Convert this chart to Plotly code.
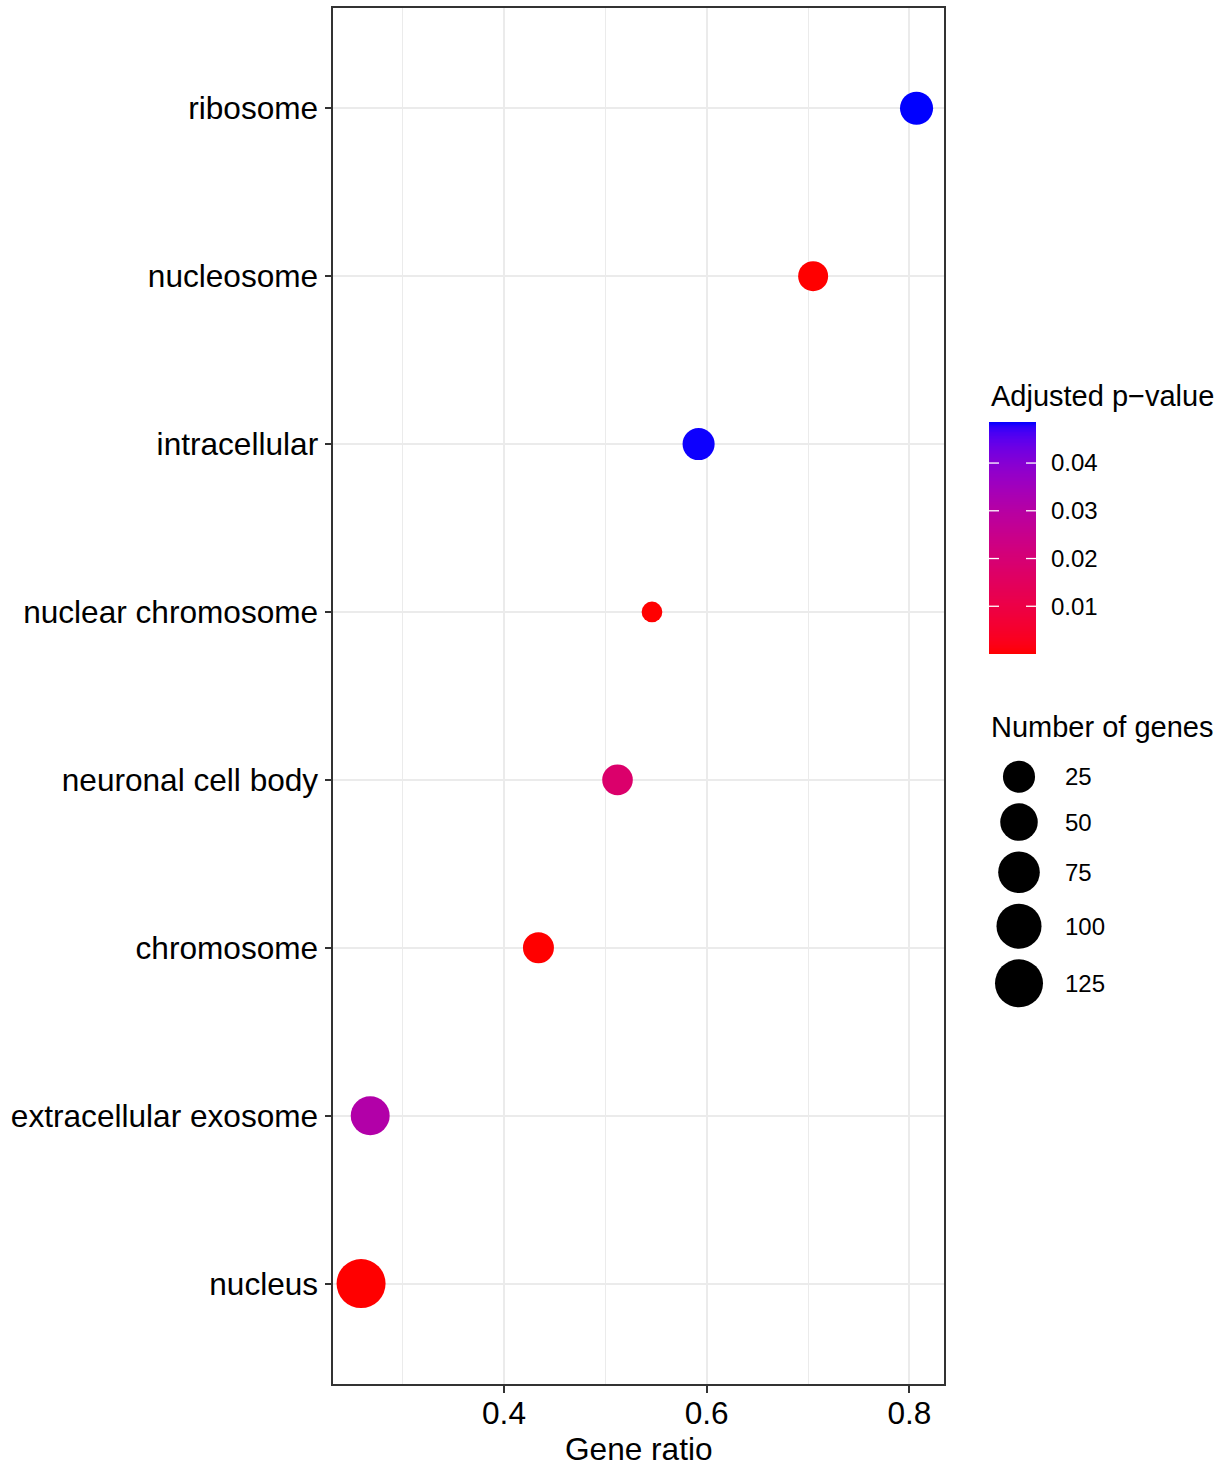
import numpy as np
import plotly.graph_objects as go

# GO cellular-component enrichment (ordered bottom -> top)
terms = [
    "nucleus",
    "extracellular exosome",
    "chromosome",
    "neuronal cell body",
    "nuclear chromosome",
    "intracellular",
    "nucleosome",
    "ribosome",
]
gene_ratio = [0.259, 0.268, 0.434, 0.512, 0.546, 0.592, 0.705, 0.807]
gene_count = [134, 58, 21, 20, 4, 25, 18, 29]
p_adjust = [2e-12, 0.031, 4e-5, 0.018, 1.2e-4, 0.0483, 3e-6, 0.0486]

x_ticks = [0.4, 0.6, 0.8]
x_tick_labels = ["0.4", "0.6", "0.8"]
p_ticks = [0.01, 0.02, 0.03, 0.04]
p_tick_labels = ["0.01", "0.02", "0.03", "0.04"]
size_breaks = [25, 50, 75, 100, 125]

W, H = 1225, 1466
FONT = "Liberation Sans, Arial, sans-serif"
INK = "#000000"
FRAME = "#333333"
GRID = "#EBEBEB"


def fx(px):
    return px / W


def fy(px):
    return 1 - px / H


# ---- colour scale: red -> blue interpolated in CIELAB ----
def _to_lin(c):
    c = c / 255.0
    return np.where(c <= 0.04045, c / 12.92, ((c + 0.055) / 1.055) ** 2.4)


def _from_lin(c):
    c = np.where(c <= 0.0031308, 12.92 * c, 1.055 * np.power(np.clip(c, 0, None), 1 / 2.4) - 0.055)
    return np.clip(np.round(c * 255), 0, 255).astype(int)


M = np.array([[0.4124, 0.3576, 0.1805], [0.2126, 0.7152, 0.0722], [0.0193, 0.1192, 0.9505]])
WHITE = np.array([0.95047, 1.0, 1.08883])


def rgb_to_lab(rgb):
    xyz = M @ _to_lin(np.array(rgb, float)) / WHITE
    f = np.where(xyz > 216 / 24389, np.cbrt(xyz), (24389 / 27 * xyz + 16) / 116)
    return np.array([116 * f[1] - 16, 500 * (f[0] - f[1]), 200 * (f[1] - f[2])])


def lab_to_rgb(lab):
    L, a, b = lab
    fyv = (L + 16) / 116
    fxv = fyv + a / 500
    fzv = fyv - b / 200
    f = np.array([fxv, fyv, fzv])
    xyz = np.where(f ** 3 > 216 / 24389, f ** 3, (116 * f - 16) / (24389 / 27)) * WHITE
    return _from_lin(np.linalg.solve(M, xyz))


lab_lo, lab_hi = rgb_to_lab([255, 0, 0]), rgb_to_lab([0, 0, 255])
colorscale = []
for t in np.linspace(0, 1, 41):
    r, g, b = lab_to_rgb(lab_lo + (lab_hi - lab_lo) * t)
    colorscale.append([float(t), f"rgb({r},{g},{b})"])

p_min, p_max = min(p_adjust), max(p_adjust)

# ---- size scale: area-proportional between min and max gene counts ----
D_MIN, D_MAX = 20.7, 49.0
n_min, n_max = min(gene_count), max(gene_count)


def diameter(n):
    return D_MIN + (D_MAX - D_MIN) * np.sqrt((np.asarray(n, float) - n_min) / (n_max - n_min))


# x range: data range padded by 5% on each side
span = max(gene_ratio) - min(gene_ratio)
x_range = [min(gene_ratio) - 0.05 * span, max(gene_ratio) + 0.05 * span]

# panel geometry (px)
PL, PR, PT, PB = 333.3, 944.3, 7.5, 1384.3

fig = go.Figure()

fig.add_trace(go.Scatter(
    x=gene_ratio, y=terms, mode="markers",
    marker=dict(size=diameter(gene_count), sizemode="diameter",
                color=p_adjust, colorscale=colorscale, cmin=p_min, cmax=p_max,
                showscale=False, line=dict(width=0), opacity=1),
    hovertemplate="%{y}<br>Gene ratio %{x}<extra></extra>",
    showlegend=False, xaxis="x", yaxis="y",
))

# ---- colour bar (gradient column) ----
CB_L, CB_W, CB_T, CB_B = 989, 47, 422, 654
grad = np.linspace(p_min, p_max, 300)
fig.add_trace(go.Heatmap(
    x=[0, 1], y=grad, z=[[v, v] for v in grad],
    colorscale=colorscale, zmin=p_min, zmax=p_max, showscale=False,
    hoverinfo="skip", xaxis="x3", yaxis="y3",
))

# ---- size legend keys ----
key_d = diameter(size_breaks)
key_y = [776.7]
for i in range(1, len(size_breaks)):
    key_y.append(key_y[-1] + (key_d[i - 1] + key_d[i]) / 2 + 10.6)
fig.add_trace(go.Scatter(
    x=[1019] * len(size_breaks), y=key_y, mode="markers",
    marker=dict(size=key_d, sizemode="diameter", color="black",
                line=dict(width=0), opacity=1),
    hoverinfo="skip", showlegend=False, xaxis="x2", yaxis="y2",
))

annotations = []
for v, yy in zip(size_breaks, key_y):
    annotations.append(dict(x=1063, y=yy, xref="x2", yref="y2", text=str(v),
                            showarrow=False, xanchor="left", yanchor="middle",
                            font=dict(family=FONT, size=24, color=INK)))

annotations += [
    dict(x=fx((PL + PR) / 2), y=fy(1449), xref="paper", yref="paper", text="Gene ratio",
         showarrow=False, xanchor="center", yanchor="middle",
         font=dict(family=FONT, size=31.6, color=INK)),
    dict(x=fx(989), y=fy(396), xref="paper", yref="paper", text="Adjusted p\u2212value",
         showarrow=False, xanchor="left", yanchor="middle",
         font=dict(family=FONT, size=29, color=INK)),
    dict(x=fx(989), y=fy(727), xref="paper", yref="paper", text="Number of genes",
         showarrow=False, xanchor="left", yanchor="middle",
         font=dict(family=FONT, size=29, color=INK)),
]

# white tick marks on both edges of the colour bar
tick_u = 10 * 2.0 / CB_W
shapes = []
for p in p_ticks:
    for x0, x1 in [(-0.5, -0.5 + tick_u), (1.5 - tick_u, 1.5)]:
        shapes.append(dict(type="line", xref="x3", yref="y3", x0=x0, x1=x1, y0=p, y1=p,
                           line=dict(color="white", width=1.3), layer="above"))

fig.update_layout(
    width=W, height=H,
    margin=dict(l=0, r=0, t=0, b=0),
    paper_bgcolor="white", plot_bgcolor="white",
    font=dict(family=FONT, color=INK),
    showlegend=False,
    annotations=annotations,
    shapes=shapes,
    xaxis=dict(
        domain=[fx(PL), fx(PR)], range=x_range, anchor="y",
        tickvals=x_ticks, ticktext=x_tick_labels,
        ticks="outside", ticklen=7, tickwidth=2, tickcolor=FRAME,
        ticklabelstandoff=-7,
        tickfont=dict(family=FONT, size=31.6, color=INK),
        showgrid=True, gridcolor=GRID, gridwidth=2,
        minor=dict(showgrid=True, gridcolor=GRID, gridwidth=1, dtick=0.1, tick0=0),
        showline=True, mirror=True, linecolor=FRAME, linewidth=1.6,
        zeroline=False, automargin=False, fixedrange=True,
    ),
    yaxis=dict(
        domain=[fy(PB), fy(PT)], anchor="x",
        type="category", categoryorder="array", categoryarray=terms,
        range=[-0.6, len(terms) - 0.4],
        ticks="outside", ticklen=7, tickwidth=2, tickcolor=FRAME,
        tickfont=dict(family=FONT, size=31.6, color=INK),
        showgrid=True, gridcolor=GRID, gridwidth=2,
        showline=True, mirror=True, linecolor=FRAME, linewidth=1.6,
        zeroline=False, automargin=False, fixedrange=True,
    ),
    xaxis2=dict(domain=[fx(985), 1.0], range=[985, 1225], anchor="y2",
                visible=False, fixedrange=True),
    yaxis2=dict(domain=[fy(1020), fy(745)], range=[1020, 745], anchor="x2",
                visible=False, fixedrange=True),
    xaxis3=dict(domain=[fx(CB_L), fx(CB_L + CB_W)], range=[-0.5, 1.5], anchor="y3",
                visible=False, fixedrange=True),
    yaxis3=dict(domain=[fy(CB_B), fy(CB_T)], range=[p_min, p_max], anchor="x3",
                side="right", tickvals=p_ticks, ticktext=p_tick_labels,
                ticks="", showgrid=False, zeroline=False, showline=False,
                ticklabelstandoff=14,
                tickfont=dict(family=FONT, size=24, color=INK), fixedrange=True),
)

fig.write_html("out.html")
